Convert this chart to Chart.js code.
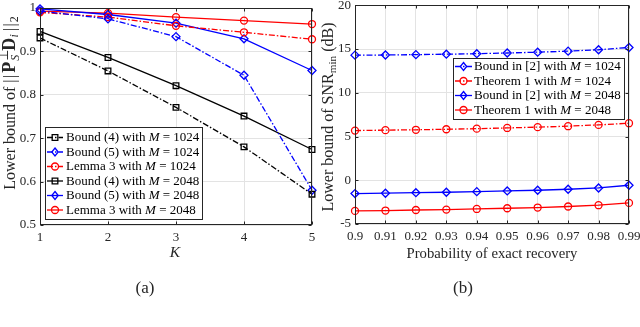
<!DOCTYPE html>
<html><head><meta charset="utf-8">
<script src="https://cdn.jsdelivr.net/npm/chart.js"></script>
<style>
html,body{margin:0;padding:0;background:#fff;width:640px;height:327px;overflow:hidden}
canvas{position:absolute;top:0}
#ca{left:0}#cb{left:320px}
</style></head><body>
<canvas id="ca" width="320" height="327"></canvas>
<canvas id="cb" width="320" height="327"></canvas>
<script>
// ---------- data: panel (a) ----------
const kValues = [1, 2, 3, 4, 5];
const ticksA_y = [0.5, 0.6, 0.7, 0.8, 0.9, 1];
const bound4M1024 = [0.931, 0.855, 0.771, 0.680, 0.571];
const bound5M1024 = [0.993, 0.975, 0.934, 0.845, 0.580];
const lemma3M1024 = [0.990, 0.979, 0.959, 0.944, 0.928];
const bound4M2048 = [0.946, 0.886, 0.821, 0.751, 0.674];
const bound5M2048 = [0.998, 0.985, 0.965, 0.929, 0.856];
const lemma3M2048 = [0.993, 0.988, 0.979, 0.971, 0.963];
const namesA = ['Bound (4)', 'Bound (5)', 'Lemma 3', 'Bound (4)', 'Bound (5)', 'Lemma 3'];
const mA = [1024, 1024, 1024, 2048, 2048, 2048];

// ---------- data: panel (b) ----------
const probs = [0.90, 0.91, 0.92, 0.93, 0.94, 0.95, 0.96, 0.97, 0.98, 0.99];
const ticksB_y = [-5, 0, 5, 10, 15, 20];
const bound2M1024 = [14.30, 14.32, 14.36, 14.41, 14.47, 14.55, 14.64, 14.76, 14.92, 15.18];
const theorem1M1024 = [5.68, 5.73, 5.77, 5.83, 5.90, 5.98, 6.07, 6.18, 6.33, 6.52];
const bound2M2048 = [-1.52, -1.48, -1.42, -1.37, -1.30, -1.22, -1.14, -1.03, -0.88, -0.57];
const theorem1M2048 = [-3.50, -3.46, -3.40, -3.35, -3.28, -3.20, -3.12, -3.00, -2.85, -2.59];
const namesB = ['Bound in [2]', 'Theorem 1', 'Bound in [2]', 'Theorem 1'];
const mB = [1024, 1024, 2048, 2048];

const SERIF = '"Liberation Serif","DejaVu Serif",serif';
const TXT = '#262626';
const DASHDOT = [6, 2, 1.5, 2];

function ds(label, xs, ys, color, style, dashed, r) {
  return {
    label, data: xs.map((x, i) => ({x, y: ys[i]})),
    borderColor: color, borderWidth: 1.3, borderDash: dashed ? DASHDOT : [],
    pointStyle: style, pointRadius: r, pointBorderColor: color, pointBorderWidth: 1.3,
    pointBackgroundColor: 'rgba(0,0,0,0)', fill: false, tension: 0, clip: false
  };
}

function drawMarker(ctx, style, r, x, y) {
  ctx.beginPath();
  if (style === 'circle') ctx.arc(x, y, r, 0, Math.PI * 2);
  else if (style === 'rect') { const s = r * Math.SQRT1_2; ctx.rect(x - s, y - s, 2 * s, 2 * s); }
  else { ctx.moveTo(x, y - r); ctx.lineTo(x + r * 0.8, y); ctx.lineTo(x, y + r); ctx.lineTo(x - r * 0.8, y); ctx.closePath(); }
  ctx.stroke();
}

function drawRich(ctx, segs, cx, cy, rot, base) {
  ctx.save(); ctx.translate(cx, cy); ctx.rotate(rot);
  ctx.textAlign = 'left'; ctx.textBaseline = 'alphabetic'; ctx.fillStyle = TXT;
  const info = segs.map(s => {
    const size = base * (s.scale || 1);
    const f = (s.st === 'i' ? 'italic ' : s.st === 'b' ? 'bold ' : '') + size + 'px ' + SERIF;
    ctx.font = f; return {f, w: ctx.measureText(s.t).width};
  });
  let total = 0;
  segs.forEach((s, i) => { if (!s.noAdv) total += info[i].w + (s.kern || 0); });
  let x = -total / 2;
  segs.forEach((s, i) => {
    ctx.font = info[i].f; ctx.fillText(s.t, x + (s.pre || 0), (s.dy || 0) + base * 0.35);
    if (!s.noAdv) x += info[i].w + (s.kern || 0);
  });
  ctx.restore();
}

function legendPlugin(cfg) {
  return {
    id: 'customLegend' + cfg.id,
    afterDraw(chart) {
      const ctx = chart.ctx; ctx.save();
      ctx.fillStyle = '#fff'; ctx.fillRect(cfg.x0, cfg.y0, cfg.x1 - cfg.x0, cfg.y1 - cfg.y0);
      ctx.strokeStyle = '#262626'; ctx.lineWidth = 1;
      ctx.strokeRect(cfg.x0 + 0.5, cfg.y0 + 0.5, cfg.x1 - cfg.x0, cfg.y1 - cfg.y0);
      chart.data.datasets.forEach((d, i) => {
        const y = cfg.row0 + i * cfg.step;
        ctx.strokeStyle = d.borderColor; ctx.lineWidth = 1.3;
        ctx.setLineDash(d.borderDash);
        ctx.beginPath(); ctx.moveTo(cfg.lx0, y); ctx.lineTo(cfg.lx1, y); ctx.stroke();
        ctx.setLineDash([]);
        drawMarker(ctx, d.pointStyle, d.pointRadius, (cfg.lx0 + cfg.lx1) / 2, y);
        const parts = [[cfg.names[i] + ' with ', ''], ['M', 'italic '], [' = ' + cfg.ms[i], '']];
        let x = cfg.tx; ctx.fillStyle = '#000'; ctx.textBaseline = 'middle'; ctx.textAlign = 'left';
        parts.forEach(p => { ctx.font = p[1] + cfg.fs + 'px ' + SERIF; ctx.fillText(p[0], x, y + 0.5); x += ctx.measureText(p[0]).width; });
      });
      ctx.restore();
    }
  };
}

function framePlugin(extra) {
  return {
    id: 'frame',
    afterDraw(chart) {
      const {ctx, chartArea: a, scales: {x, y}} = chart;
      ctx.save(); ctx.strokeStyle = '#262626'; ctx.lineWidth = 1;
      const L = Math.round(a.left) + 0.5, R = Math.round(a.right) - 0.5, T = Math.round(a.top) + 0.5, B = Math.round(a.bottom) - 0.5;
      ctx.beginPath();
      x.ticks.forEach(t => { const p = Math.round(x.getPixelForValue(t.value)) + 0.5; ctx.moveTo(p, B); ctx.lineTo(p, B - 3); ctx.moveTo(p, T); ctx.lineTo(p, T + 3); });
      y.ticks.forEach(t => { const p = Math.round(y.getPixelForValue(t.value)) + 0.5; ctx.moveTo(L, p); ctx.lineTo(L + 3, p); ctx.moveTo(R, p); ctx.lineTo(R - 3, p); });
      ctx.stroke();
      ctx.strokeRect(L, T, R - L, B - T);
      ctx.restore();
      extra(ctx);
    }
  };
}

function baseOptions(xmin, xmax, xt, ymin, ymax, yt, yw, xh, pad, fmtX) {
  return {
    responsive: false, animation: false, devicePixelRatio: 1,
    layout: {padding: pad},
    plugins: {legend: {display: false}, tooltip: {enabled: false}},
    scales: {
      x: {type: 'linear', min: xmin, max: xmax,
        afterBuildTicks: s => { s.ticks = xt.map(v => ({value: v})); },
        afterFit: s => { s.height = xh; s.paddingLeft = 0; s.paddingRight = 0; },
        ticks: {font: {family: SERIF, size: 13}, color: TXT, padding: 5, maxRotation: 0, autoSkip: false,
          callback: fmtX},
        grid: {color: '#e3e3e3', drawTicks: false, lineWidth: 1}, border: {display: false}},
      y: {type: 'linear', min: ymin, max: ymax,
        afterBuildTicks: s => { s.ticks = yt.map(v => ({value: v})); },
        afterFit: s => { s.width = yw; s.paddingTop = 0; s.paddingBottom = 0; },
        ticks: {font: {family: SERIF, size: 13}, color: TXT, padding: 4, autoSkip: false,
          callback: v => String(Math.round(v * 100) / 100)},
        grid: {color: '#e3e3e3', drawTicks: false, lineWidth: 1}, border: {display: false}}
    }
  };
}

// ---------- chart (a) ----------
new Chart(document.getElementById('ca'), {
  type: 'line',
  data: {datasets: [
    ds('Bound (4) M=1024', kValues, bound4M1024, '#000000', 'rect', true, 4),
    ds('Bound (5) M=1024', kValues, bound5M1024, '#0000ff', 'rectRot', true, 4),
    ds('Lemma 3 M=1024', kValues, lemma3M1024, '#ff0000', 'circle', true, 3.5),
    ds('Bound (4) M=2048', kValues, bound4M2048, '#000000', 'rect', false, 4),
    ds('Bound (5) M=2048', kValues, bound5M2048, '#0000ff', 'rectRot', false, 4),
    ds('Lemma 3 M=2048', kValues, lemma3M2048, '#ff0000', 'circle', false, 3.5)
  ]},
  options: baseOptions(1, 5, kValues, 0.5, 1, ticksA_y, 40, 102, {left: 0, top: 8, right: 8, bottom: 0}, v => String(v)),
  plugins: [
    framePlugin(ctx => {
      drawRich(ctx, [
        {t: 'Lower bound of '}, {t: '|', kern: 1.5}, {t: '|', kern: 2}, {t: 'P', st: 'b', scale: 1.12, kern: 1},
        {t: '⊥', scale: 0.75, dy: -7, noAdv: true}, {t: 'S', st: 'i', scale: 0.75, dy: 4, kern: 4},
        {t: 'D', st: 'b', scale: 1.12, kern: 0.5}, {t: 'i', st: 'i', scale: 0.75, dy: 3, kern: 3},
        {t: '|', kern: 1.5}, {t: '|', kern: 1}, {t: '2', scale: 0.75, dy: 3}
      ], 9, 103, -Math.PI / 2, 16);
      drawRich(ctx, [{t: 'K', st: 'i'}], 175, 252, 0, 15.5);
      drawRich(ctx, [{t: '(a)'}], 145, 287, 0, 17);
    }),
    legendPlugin({id: 'a', x0: 45, y0: 127, x1: 202, y1: 219, row0: 137.5, step: 14.5, lx0: 47, lx1: 63, tx: 66, fs: 13, names: namesA, ms: mA})
  ]
});

// ---------- chart (b) ----------
new Chart(document.getElementById('cb'), {
  type: 'line',
  data: {datasets: [
    ds('Bound in [2] M=1024', probs, bound2M1024, '#0000ff', 'rectRot', true, 4),
    ds('Theorem 1 M=1024', probs, theorem1M1024, '#ff0000', 'circle', true, 3.5),
    ds('Bound in [2] M=2048', probs, bound2M2048, '#0000ff', 'rectRot', false, 4),
    ds('Theorem 1 M=2048', probs, theorem1M2048, '#ff0000', 'circle', false, 3.5)
  ]},
  options: baseOptions(0.9, 0.99, probs, -5, 20, ticksB_y, 35, 103, {left: 0, top: 5, right: 11, bottom: 0}, v => String(Math.round(v * 100) / 100)),
  plugins: [
    framePlugin(ctx => {
      drawRich(ctx, [
        {t: 'Lower bound of SNR'}, {t: 'min', scale: 0.7, dy: 3}, {t: ' (dB)'}
      ], 7, 117, -Math.PI / 2, 16);
      drawRich(ctx, [{t: 'Probability of exact recovery'}], 172, 253, 0, 14.7);
      drawRich(ctx, [{t: '(b)'}], 143, 287, 0, 17);
    }),
    legendPlugin({id: 'b', x0: 133, y0: 58, x1: 304, y1: 119, row0: 66.5, step: 14.5, lx0: 135, lx1: 152, tx: 154, fs: 13, names: namesB, ms: mB})
  ]
});
</script>
</body></html>
